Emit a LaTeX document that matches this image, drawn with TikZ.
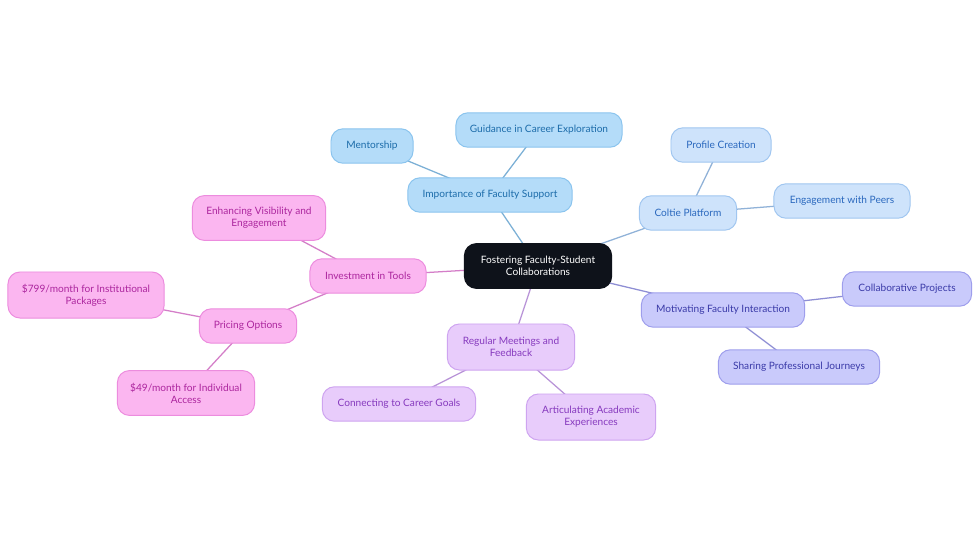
\documentclass[tikz,border=0pt]{standalone}
\usepackage{fontspec}
\setmainfont{Lato}
\usepackage{xcolor}
\usepackage{tikz}
\usetikzlibrary{backgrounds}
\definecolor{rootfill}{RGB}{14,18,26}
\definecolor{supfill}{RGB}{180,220,249}
\definecolor{supdraw}{RGB}{138,196,238}
\definecolor{suptext}{RGB}{28,108,170}
\definecolor{colfill}{RGB}{206,227,251}
\definecolor{coldraw}{RGB}{160,198,240}
\definecolor{coltext}{RGB}{42,104,190}
\definecolor{motfill}{RGB}{201,202,251}
\definecolor{motdraw}{RGB}{158,158,236}
\definecolor{mottext}{RGB}{58,58,168}
\definecolor{meetfill}{RGB}{232,204,251}
\definecolor{meetdraw}{RGB}{206,164,240}
\definecolor{meettext}{RGB}{134,58,190}
\definecolor{toolfill}{RGB}{251,182,240}
\definecolor{tooldraw}{RGB}{236,140,222}
\definecolor{tooltext}{RGB}{172,38,158}
\tikzset{
    mmbox/.style={rectangle, rounded corners=0.3cm, minimum height=0.86cm, text centered, draw, line width=0.7pt, align=center, inner sep=2pt, font=\fontsize{7.2}{8.4}\selectfont},
    rootbox/.style={mmbox, fill=rootfill, draw=rootfill, text=white, minimum height=1.12cm},
    supbox/.style={mmbox, fill=supfill, draw=supdraw, text=suptext},
    colbox/.style={mmbox, fill=colfill, draw=coldraw, text=coltext},
    motbox/.style={mmbox, fill=motfill, draw=motdraw, text=mottext},
    meetbox/.style={mmbox, fill=meetfill, draw=meetdraw, text=meettext},
    toolbox/.style={mmbox, fill=toolfill, draw=tooldraw, text=tooltext},
    link/.style={line width=0.9pt}
}
\begin{document}
\begin{tikzpicture}[x=0.025cm, y=-0.025cm]
    \useasboundingbox (0,0) rectangle (980,553);
    % Root
    \node[rootbox, minimum width=3.68cm] (root) at (538,266) {Fostering Faculty-Student\\Collaborations};

    % Faculty support branch
    \node[supbox, minimum width=4.1cm] (support) at (490,195) {Importance of Faculty Support};
    \node[supbox, minimum width=2.05cm] (mentor) at (372,146) {Mentorship};
    \node[supbox, minimum width=4.15cm] (guidance) at (539,130) {Guidance in Career Exploration};

    % Coltie branch
    \node[colbox, minimum width=2.43cm] (coltie) at (688,213) {Coltie Platform};
    \node[colbox, minimum width=2.5cm] (profile) at (721,145) {Profile Creation};
    \node[colbox, minimum width=3.4cm] (peers) at (842,201) {Engagement with Peers};

    % Motivating branch
    \node[motbox, minimum width=4.08cm] (motivate) at (723,310) {Motivating Faculty Interaction};
    \node[motbox, minimum width=3.23cm] (projects) at (907,289) {Collaborative Projects};
    \node[motbox, minimum width=4.03cm] (journeys) at (799,367) {Sharing Professional Journeys};

    % Meetings branch
    \node[meetbox, minimum width=3.18cm, minimum height=1.15cm] (meetings) at (511,347) {Regular Meetings and\\Feedback};
    \node[meetbox, minimum width=3.83cm] (goals) at (399,404) {Connecting to Career Goals};
    \node[meetbox, minimum width=3.23cm, minimum height=1.15cm] (articulate) at (591,417) {Articulating Academic\\Experiences};

    % Tools branch
    \node[toolbox, minimum width=2.9cm] (tools) at (368,276) {Investment in Tools};
    \node[toolbox, minimum width=3.33cm, minimum height=1.12cm] (visibility) at (259,218) {Enhancing Visibility and\\Engagement};
    \node[toolbox, minimum width=2.43cm] (pricing) at (248,326) {Pricing Options};
    \node[toolbox, minimum width=3.9cm, minimum height=1.15cm] (inst) at (86,295) {\$799/month for Institutional\\Packages};
    \node[toolbox, minimum width=3.43cm, minimum height=1.12cm] (indiv) at (186,393) {\$49/month for Individual\\Access};

    % Links
    \begin{scope}[on background layer]
        \fill[white] (0,0) rectangle (980,553);
        \draw[link, supdraw!90!black] (root.center) -- (support.center);
        \draw[link, supdraw!90!black] (support.center) -- (mentor.center);
        \draw[link, supdraw!90!black] (support.center) -- (guidance.center);
        \draw[link, coldraw!90!black] (root.center) -- (coltie.center);
        \draw[link, coldraw!90!black] (coltie.center) -- (profile.center);
        \draw[link, coldraw!90!black] (coltie.center) -- (peers.center);
        \draw[link, motdraw!90!black] (root.center) -- (motivate.center);
        \draw[link, motdraw!90!black] (motivate.center) -- (projects.center);
        \draw[link, motdraw!90!black] (motivate.center) -- (journeys.center);
        \draw[link, meetdraw!90!black] (root.center) -- (meetings.center);
        \draw[link, meetdraw!90!black] (meetings.center) -- (goals.center);
        \draw[link, meetdraw!90!black] (meetings.center) -- (articulate.center);
        \draw[link, tooldraw!90!black] (root.center) -- (tools.center);
        \draw[link, tooldraw!90!black] (tools.center) -- (visibility.center);
        \draw[link, tooldraw!90!black] (tools.center) -- (pricing.center);
        \draw[link, tooldraw!90!black] (pricing.center) -- (inst.center);
        \draw[link, tooldraw!90!black] (pricing.center) -- (indiv.center);
    \end{scope}
\end{tikzpicture}
\end{document}
